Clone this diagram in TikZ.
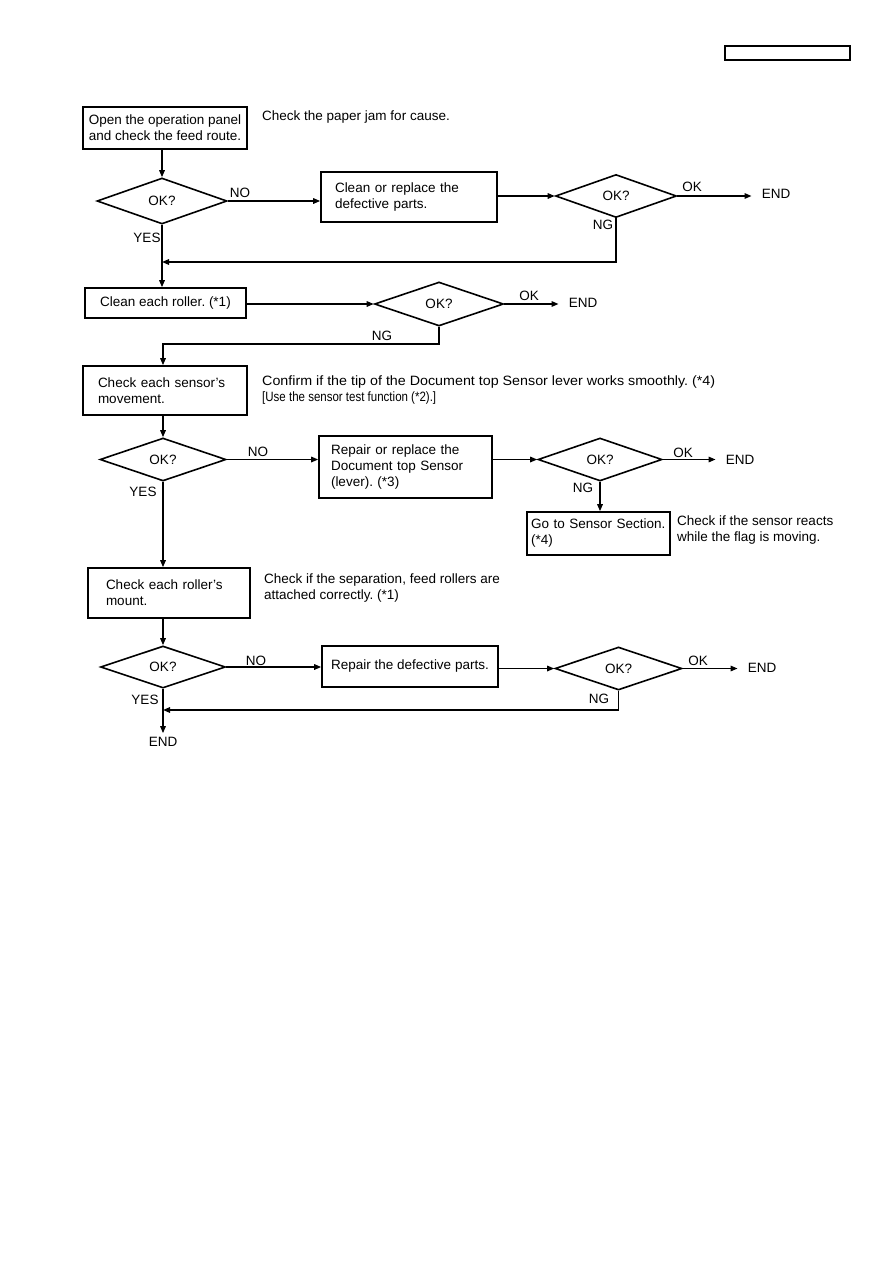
\documentclass[tikz,border=0pt]{standalone}
\usepackage{fontspec}
\usepackage{graphicx}
\setmainfont{Liberation Sans}
\usetikzlibrary{shapes.geometric,arrows.meta}
\frenchspacing
\begin{document}
\begin{tikzpicture}[x=1pt,y={(0pt,-1pt)},
  fnt/.style={font=\fontsize{13.5}{16}\selectfont},
  box/.style={draw, line width=1.6pt, fnt, inner ysep=0pt, align=left},
  diam/.style={diamond, draw, line width=1.6pt, fnt, inner sep=0pt},
  lbl/.style={fnt, inner sep=0pt},
  endn/.style={fnt, inner xsep=10pt, inner ysep=4pt},
  arr/.style={line width=1.5pt, -{Triangle[length=7pt,width=5.5pt]}}]
\useasboundingbox (0,0) rectangle (893,1263);
\fill[white] (0,0) rectangle (893,1263);

% header box
\node[draw, line width=1.6pt, minimum width=125, minimum height=14, inner sep=0pt] (hdr) at (787.5,53) {};

% nodes
\node[box, minimum width=164, minimum height=42, inner xsep=5.5pt] (b1) at (165,128) {Open the operation panel\\and check the feed route.};
\node[lbl, anchor=west] (t1) at (262,117) {Check the paper jam for cause.};
\node[diam, minimum width=130, minimum height=46] (d1) at (162,201) {OK?};
\node[box, minimum height=50, text width=148pt, inner xsep=14pt] (b2) at (409,197) {Clean or replace the\\defective parts.};
\node[diam, minimum width=121, minimum height=43] (d2) at (616,196) {OK?};
\node[endn] (end1) at (776,194) {END};

\node[box, minimum width=161, minimum height=30, align=center] (b3) at (165.5,303) {Clean each roller. (*1)};
\node[diam, minimum width=129, minimum height=44] (d3) at (439,304) {OK?};
\node[endn] (end2) at (583,303) {END};

\node[box, minimum height=49, text width=134pt, inner xsep=15pt] (b4) at (165,390.5) {Check each sensor's\\movement.};
\node[lbl, anchor=west, align=left] (t2) at (262,390) {\resizebox{453pt}{\height}{Confirm if the tip of the Document top Sensor lever works smoothly. (*4)}\\\resizebox{174pt}{\height}{[Use the sensor test function (*2).]}};
\node[diam, minimum width=126, minimum height=43] (d4) at (163,459.5) {OK?};
\node[box, minimum height=62, text width=149pt, inner xsep=12pt] (b5) at (405.5,467) {Repair or replace the\\Document top Sensor\\(lever). (*3)};
\node[diam, minimum width=124, minimum height=43] (d5) at (600,459.5) {OK?};
\node[endn] (end3) at (740,460) {END};
\node[box, minimum height=43, text width=135pt, inner xsep=4pt] (b6) at (598.5,533.5) {Go to Sensor Section.\\(*4)};
\node[lbl, anchor=west, align=left] (t3) at (677,530) {Check if the sensor reacts\\while the flag is moving.};

\node[box, minimum height=50, text width=126pt, inner xsep=18pt] (b7) at (169,593) {Check each roller's\\mount.};
\node[lbl, anchor=west, align=left] (t4) at (264,588) {Check if the separation, feed rollers are\\attached correctly. (*1)};
\node[diam, minimum width=125, minimum height=42] (d6) at (163,667) {OK?};
\node[box, minimum width=176, minimum height=41, align=center] (b8) at (410,666.5) {Repair the defective parts.};
\node[diam, minimum width=127, minimum height=43] (d7) at (618.5,668.5) {OK?};
\node[endn] (end4) at (762,668) {END};
\node[endn] (end5) at (163,742) {END};

% labels
\node[lbl] (l1) at (240,193) {NO};
\node[lbl] (l2) at (692,187) {OK};
\node[lbl] (l3) at (603,225) {NG};
\node[lbl] (l4) at (147,238) {YES};
\node[lbl] (l5) at (529,296) {OK};
\node[lbl] (l6) at (382,336) {NG};
\node[lbl] (l7) at (258,452) {NO};
\node[lbl] (l8) at (683,453) {OK};
\node[lbl] (l9) at (583,488) {NG};
\node[lbl] (l10) at (143,492) {YES};
\node[lbl] (l11) at (256,661) {NO};
\node[lbl] (l12) at (698,661) {OK};
\node[lbl] (l13) at (599,699) {NG};
\node[lbl] (l14) at (145,700) {YES};

\coordinate (j1) at (162,262);
\coordinate (j2) at (163,344);
\coordinate (j3) at (163,710);

% connectors
\draw[arr] (d1.north |- b1.south) -- (d1.north);
\draw[arr] (d1.east) -- (d1.east -| b2.west);
\draw[arr] (b2.east |- d2.west) -- (d2.west);
\draw[arr] (d2.east) -- (d2.east -| end1.west);
\draw[arr] (d2.south) |- (j1);
\draw[arr] (d1.south) -- (d1.south |- b3.north);
\draw[arr] (b3.east |- d3.west) -- (d3.west);
\draw[arr] (d3.east) -- (d3.east -| end2.west);
\draw[arr] (d3.south) |- (j2) -- (j2 |- b4.north);
\draw[arr] (b4.south -| d4.north) -- (d4.north);
\draw[arr] (d4.east) -- (d4.east -| b5.west);
\draw[arr] (b5.east |- d5.west) -- (d5.west);
\draw[arr] (d5.east) -- (d5.east -| end3.west);
\draw[arr] (d5.south) -- (d5.south |- b6.north);
\draw[arr] (d4.south) -- (d4.south |- b7.north);
\draw[arr] (b7.south -| d6.north) -- (d6.north);
\draw[arr] (d6.east) -- (d6.east -| b8.west);
\draw[arr] (b8.east |- d7.west) -- (d7.west);
\draw[arr] (d7.east) -- (d7.east -| end4.west);
\draw[arr] (d7.south) |- (j3);
\draw[arr] (d6.south) -- (end5.north);
\end{tikzpicture}
\end{document}
